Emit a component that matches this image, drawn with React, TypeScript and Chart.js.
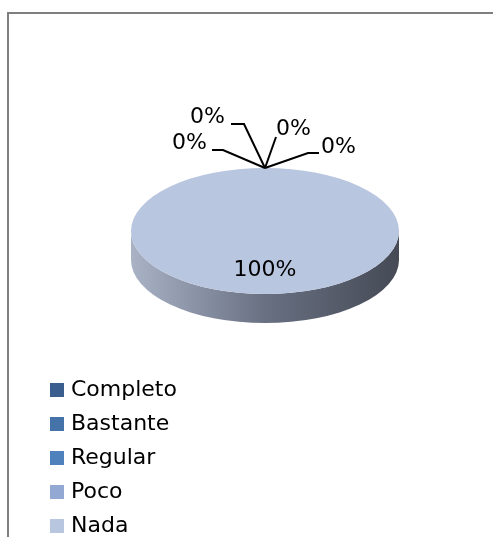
import React, { useEffect, useRef } from 'react';
import { Chart, registerables } from 'chart.js';

Chart.register(...registerables);

// ---- data ----
const categories = ['Completo', 'Bastante', 'Regular', 'Poco', 'Nada'];
const values = [0, 0, 0, 0, 100];
const percentLabels = ['0%', '0%', '0%', '0%', '100%'];
const colors = ['#3a5f8f', '#4572a7', '#4f81bd', '#93a9d3', '#b9c6e0'];

// ---- style / layout ----
const FONT = '"DejaVu Sans", sans-serif';
const FONT_SIZE = 22;
const PIE_CX = 265;
const PIE_CY = 231;
const PIE_R = 134;
const TILT = 63 / 134;
const DEPTH = 29;
// leader line geometry for the small slices, relative to the slice anchor
const leaderOffsets = [
  { ex: 43, ey: -15, lx: 54, ly: -15, tx: 56, ty: -21, align: 'left' },
  { ex: 11, ey: -31, lx: 11, ly: -31, tx: 11, ty: -39, align: 'left' },
  { ex: -21, ey: -44, lx: -34, ly: -44, tx: -40, ty: -51, align: 'right' },
  { ex: -42, ey: -18, lx: -53, ly: -18, tx: -58, ty: -25, align: 'right' },
];

const framePlugin = {
  id: 'frame',
  beforeDraw(chart: any) {
    const ctx = chart.ctx;
    ctx.save();
    ctx.fillStyle = '#ffffff';
    ctx.fillRect(0, 0, chart.width, chart.height);
    ctx.strokeStyle = '#7f7f7f';
    ctx.lineWidth = 2;
    ctx.strokeRect(8, 13, 700, 700);
    ctx.restore();
  },
};

const areaPlugin = {
  id: 'pieArea',
  afterLayout(chart: any) {
    Object.assign(chart.chartArea, {
      left: PIE_CX - PIE_R,
      right: PIE_CX + PIE_R,
      top: PIE_CY - PIE_R,
      bottom: PIE_CY + PIE_R,
      width: 2 * PIE_R,
      height: 2 * PIE_R,
    });
  },
};

const pie3dPlugin = {
  id: 'pie3d',
  beforeDatasetsDraw(chart: any) {
    const meta = chart.getDatasetMeta(0);
    const arc: any = meta.data[meta.data.length - 1];
    const { x, y, outerRadius: r } = arc.getProps(['x', 'y', 'outerRadius'], true);
    const ry = r * TILT;
    const ctx = chart.ctx;
    ctx.save();
    const g = ctx.createLinearGradient(x - r, 0, x + r, 0);
    g.addColorStop(0, '#aab3c6');
    g.addColorStop(0.5, '#687082');
    g.addColorStop(1, '#454a55');
    ctx.fillStyle = g;
    ctx.beginPath();
    ctx.ellipse(x, y, r, ry, 0, 0, Math.PI, false);
    ctx.lineTo(x - r, y + DEPTH);
    ctx.ellipse(x, y + DEPTH, r, ry, 0, Math.PI, 0, true);
    ctx.closePath();
    ctx.fill();
    ctx.restore();
    ctx.save();
    ctx.translate(0, y);
    ctx.scale(1, TILT);
    ctx.translate(0, -y);
  },
  afterDatasetsDraw(chart: any) {
    const ctx = chart.ctx;
    ctx.restore();
    const meta = chart.getDatasetMeta(0);
    ctx.save();
    ctx.font = `${FONT_SIZE}px ${FONT}`;
    ctx.fillStyle = '#000000';
    ctx.strokeStyle = '#000000';
    ctx.lineWidth = 2;
    ctx.textBaseline = 'middle';
    meta.data.forEach((el: any, i: number) => {
      const { x, y, outerRadius: r, startAngle, endAngle } = el.getProps(
        ['x', 'y', 'outerRadius', 'startAngle', 'endAngle'],
        true
      );
      const ry = r * TILT;
      if (i < leaderOffsets.length && values[i] === 0) {
        const ax = x + r * Math.cos(startAngle);
        const ay = y + ry * Math.sin(startAngle);
        const o = leaderOffsets[i];
        ctx.beginPath();
        ctx.moveTo(ax, ay);
        ctx.lineTo(ax + o.ex, ay + o.ey);
        ctx.lineTo(ax + o.lx, ay + o.ly);
        ctx.stroke();
        ctx.textAlign = o.align as CanvasTextAlign;
        ctx.fillText(percentLabels[i], ax + o.tx, ay + o.ty);
      } else {
        const mid = (startAngle + endAngle) / 2;
        const full = endAngle - startAngle > Math.PI * 1.99;
        const lx = full ? x : x + r * 0.6 * Math.cos(mid);
        const ly = full ? y + ry * 0.62 : y + ry * 0.6 * Math.sin(mid);
        ctx.textAlign = 'center';
        ctx.fillText(percentLabels[i], lx, ly);
      }
    });
    ctx.restore();
  },
};

export default function App() {
  const canvasRef = useRef<HTMLCanvasElement | null>(null);

  useEffect(() => {
    document.body.style.margin = '0';
    const canvas = canvasRef.current;
    if (!canvas) return;
    const chart = new Chart(canvas, {
      type: 'pie',
      data: {
        labels: categories,
        datasets: [
          {
            data: values,
            backgroundColor: colors,
            borderWidth: 0,
          },
        ],
      },
      options: {
        animation: false,
        responsive: false,
        events: [],
        layout: { padding: { left: 42, top: 0, right: 0, bottom: 11 } },
        plugins: {
          tooltip: { enabled: false },
          legend: {
            position: 'left',
            align: 'end',
            labels: {
              boxWidth: 6,
              boxHeight: 6,
              padding: 12,
              color: '#000000',
              font: { family: FONT, size: FONT_SIZE },
              generateLabels: () =>
                categories.map((c, i) => ({
                  text: c,
                  fillStyle: colors[i],
                  strokeStyle: colors[i],
                  lineWidth: 8,
                  hidden: false,
                  index: i,
                  fontColor: '#000000',
                })),
            },
          },
        },
      },
      plugins: [framePlugin, areaPlugin, pie3dPlugin],
    });
    return () => chart.destroy();
  }, []);

  return (
    <div
      style={{
        position: 'fixed',
        left: 0,
        top: 0,
        width: 493,
        height: 537,
        overflow: 'hidden',
        background: '#ffffff',
      }}
    >
      <canvas
        ref={canvasRef}
        width={493}
        height={560}
        style={{ display: 'block', width: 493, height: 560 }}
      />
    </div>
  );
}
